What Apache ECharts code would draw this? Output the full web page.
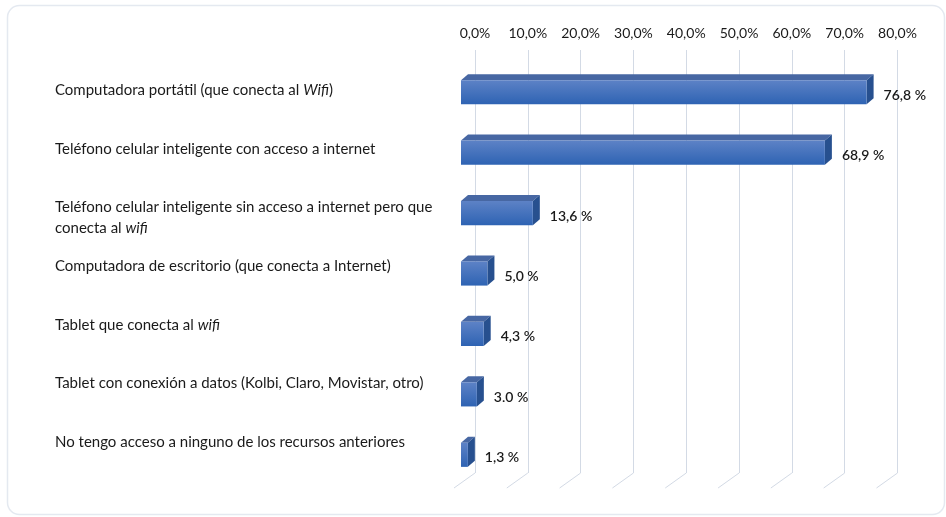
<!DOCTYPE html>
<html>
<head>
<meta charset="utf-8">
<script src="https://cdn.jsdelivr.net/npm/echarts@6/dist/echarts.min.js"></script>
<style>
  html, body { margin: 0; padding: 0; background: #ffffff; }
  #chart { width: 946px; height: 517px; }
</style>
</head>
<body>
<div id="chart"></div>
<script>
// Categories (rich-text markers {i|...} render in italics)
const categories = [
  'Computadora portátil (que conecta al {i|Wifi})',
  'Teléfono celular inteligente con acceso a internet',
  'Teléfono celular inteligente sin acceso a internet pero que\nconecta al {i|wifi}',
  'Computadora de escritorio (que conecta a Internet)',
  'Tablet que conecta al {i|wifi}',
  'Tablet con conexión a datos (Kolbi, Claro, Movistar, otro)',
  'No tengo acceso a ninguno de los recursos anteriores'
];
// Percentages per category
const values = [76.8, 68.9, 13.6, 5.0, 4.3, 3.0, 1.3];
// Decimal mark used in each value label
const decimalMarks = [',', ',', ',', ',', ',', '.', ','];
// Value axis ticks
const axisTicks = [0, 10, 20, 30, 40, 50, 60, 70, 80];

const FONT = 'Lato, "Open Sans", sans-serif';
const TEXT = '#1a1a1a';

// 3D-look offsets: front face shift from the back wall, and box depth
const FRONT_DX = -14, FRONT_DY = 12;
const DEPTH_DX = 7, DEPTH_DY = -6;
// Floor lines running forward from the bottom of each gridline
const FLOOR_DX = -21, FLOOR_DY = 15;

const chart = echarts.init(document.getElementById('chart'), null, { renderer: 'canvas' });

function renderBar(params, api) {
  const ci = api.value(0);
  const v = api.value(1);
  const p0 = api.coord([0, ci]);
  const p1 = api.coord([v, ci]);
  const band = api.size([0, 1])[1];
  const h = band * 0.4;
  const x0 = p0[0] + FRONT_DX;
  const x1 = p1[0] + FRONT_DX;
  const yc = p0[1] + FRONT_DY;
  const y0 = yc - h / 2, y1 = yc + h / 2;
  const label = v.toFixed(1).replace('.', decimalMarks[params.dataIndex]) + ' %';
  return {
    type: 'group',
    children: [
      {
        type: 'polygon',
        shape: { points: [[x0, y0], [x0 + DEPTH_DX, y0 + DEPTH_DY], [x1 + DEPTH_DX, y0 + DEPTH_DY], [x1, y0]] },
        style: { fill: '#4767a3' }
      },
      {
        type: 'polygon',
        shape: { points: [[x1, y0], [x1 + DEPTH_DX, y0 + DEPTH_DY], [x1 + DEPTH_DX, y1 + DEPTH_DY], [x1, y1]] },
        style: { fill: '#27508f' }
      },
      {
        type: 'rect',
        shape: { x: x0, y: y0, width: x1 - x0, height: h },
        style: {
          fill: new echarts.graphic.LinearGradient(0, 0, 0, 1, [
            { offset: 0, color: '#5d82c6' },
            { offset: 1, color: '#2e63b3' }
          ])
        }
      },
      {
        type: 'text',
        x: x1 + DEPTH_DX + 10,
        y: yc + 3,
        style: {
          text: label,
          fill: TEXT,
          font: '600 14px ' + FONT,
          align: 'left',
          verticalAlign: 'middle'
        }
      }
    ]
  };
}

function renderFloorLine(params, api) {
  const cs = params.coordSys;
  const x = api.coord([api.value(0), 0])[0];
  const yb = cs.y + cs.height;
  return {
    type: 'line',
    shape: { x1: x, y1: yb, x2: x + FLOOR_DX, y2: yb + FLOOR_DY },
    style: { stroke: '#d3dae5', lineWidth: 1 }
  };
}

const option = {
  backgroundColor: '#ffffff',
  animation: false,
  graphic: [{
    type: 'rect',
    shape: { x: 7.5, y: 5.5, width: 937, height: 509, r: 12 },
    style: { fill: 'none', stroke: '#e4e9f0', lineWidth: 1.5 },
    silent: true
  }],
  grid: [
    // category label column
    { left: 55, width: 400, top: 60.6, bottom: 45.4 },
    // plot area with gridlines and bars
    { left: 475, right: 48.5, top: 50, bottom: 44 }
  ],
  xAxis: [
    { gridIndex: 0, type: 'value', min: 0, max: 80, interval: 10, show: false },
    {
      gridIndex: 1,
      type: 'value',
      position: 'top',
      min: axisTicks[0],
      max: axisTicks[axisTicks.length - 1],
      interval: axisTicks[1] - axisTicks[0],
      axisLine: { show: false },
      axisTick: { show: false },
      splitLine: { show: true, lineStyle: { color: '#d3dae5', width: 1 } },
      axisLabel: {
        margin: 10,
        color: TEXT,
        fontFamily: FONT,
        fontSize: 14,
        formatter: v => v.toFixed(1).replace('.', ',') + '%'
      }
    }
  ],
  yAxis: [
    {
      gridIndex: 0,
      type: 'category',
      inverse: true,
      data: categories.map((c, i) => i === 2
        ? { value: c, textStyle: { padding: [21, 0, 0, 0] } }
        : c),
      axisLine: { show: false },
      axisTick: { show: false },
      splitLine: { show: false },
      axisLabel: {
        inside: true,
        margin: 0,
        align: 'left',
        color: TEXT,
        fontFamily: FONT,
        fontSize: 15,
        lineHeight: 21,
        rich: {
          i: { fontStyle: 'italic', color: TEXT, fontFamily: FONT, fontSize: 15, lineHeight: 21 }
        }
      }
    },
    {
      gridIndex: 1,
      type: 'category',
      inverse: true,
      data: categories,
      show: false
    }
  ],
  series: [
    {
      type: 'custom',
      xAxisIndex: 1,
      yAxisIndex: 1,
      renderItem: renderBar,
      encode: { x: 1, y: 0 },
      data: values.map((v, i) => [i, v]),
      z: 3
    },
    {
      type: 'custom',
      xAxisIndex: 1,
      yAxisIndex: 1,
      renderItem: renderFloorLine,
      encode: { x: 0 },
      data: axisTicks.map(t => [t]),
      clip: false,
      z: 1
    }
  ]
};

chart.setOption(option);
</script>
</body>
</html>
